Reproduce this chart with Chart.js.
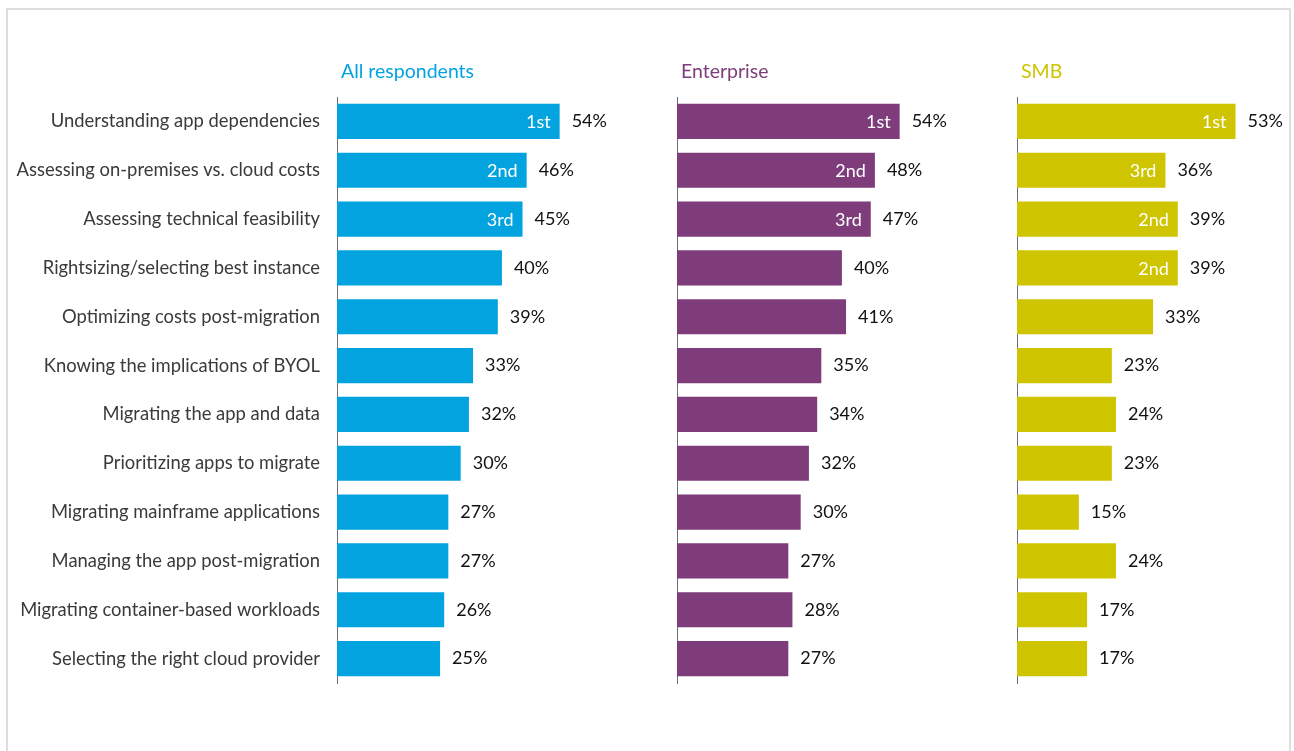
<!DOCTYPE html>
<html>
<head>
<meta charset="utf-8">
<script src="https://cdn.jsdelivr.net/npm/chart.js@4.4.1/dist/chart.umd.min.js"></script>
<style>
  html, body { margin: 0; padding: 0; background: #fff; overflow: hidden; }
  #page { position: relative; width: 1294px; height: 751px; }
  #frame { position: absolute; left: 6px; top: 8px; width: 1285px; height: 760px;
           border: 2px solid #dedede; box-sizing: border-box; }
  canvas { position: absolute; top: 0; }
</style>
</head>
<body>
<div id="page">
  <div id="frame"></div>
  <canvas id="chartAll" style="left:0px" width="613" height="751"></canvas>
  <canvas id="chartEnt" style="left:667px" width="286" height="751"></canvas>
  <canvas id="chartSmb" style="left:1007px" width="286" height="751"></canvas>
</div>
<script>
const categories = [
  'Understanding app dependencies',
  'Assessing on-premises vs. cloud costs',
  'Assessing technical feasibility',
  'Rightsizing/selecting best instance',
  'Optimizing costs post-migration',
  'Knowing the implications of BYOL',
  'Migrating the app and data',
  'Prioritizing apps to migrate',
  'Migrating mainframe applications',
  'Managing the app post-migration',
  'Migrating container-based workloads',
  'Selecting the right cloud provider'
];
const allValues = [54, 46, 45, 40, 39, 33, 32, 30, 27, 27, 26, 25];
const entValues = [54, 48, 47, 40, 41, 35, 34, 32, 30, 27, 28, 27];
const smbValues = [53, 36, 39, 39, 33, 23, 24, 23, 15, 24, 17, 17];
const allRanks = ['1st', '2nd', '3rd', '', '', '', '', '', '', '', '', ''];
const entRanks = ['1st', '2nd', '3rd', '', '', '', '', '', '', '', '', ''];
const smbRanks = ['1st', '3rd', '2nd', '2nd', '', '', '', '', '', '', '', ''];

const FONT = 'Lato';
const X_MAX = 65;

// draws panel title, rank inside bar and value after bar
const barText = {
  id: 'barText',
  afterDatasetsDraw(chart, args, opts) {
    const ctx = chart.ctx;
    const area = chart.chartArea;
    ctx.save();
    ctx.font = '19.5px ' + FONT;
    ctx.fillStyle = opts.color;
    ctx.textAlign = 'left';
    ctx.textBaseline = 'middle';
    ctx.fillText(opts.title, area.left + 4, 72);
    const meta = chart.getDatasetMeta(0);
    const data = chart.data.datasets[0].data;
    meta.data.forEach((bar, i) => {
      ctx.font = '18px ' + FONT;
      ctx.fillStyle = '#111';
      ctx.textAlign = 'left';
      ctx.fillText(data[i] + '%', bar.x + 12, bar.y);
      if (opts.ranks[i]) {
        ctx.fillStyle = '#fff';
        ctx.textAlign = 'right';
        ctx.fillText(opts.ranks[i], bar.x - 9, bar.y + 1);
      }
    });
    ctx.restore();
  }
};

function makeChart(id, values, ranks, color, title, yWidth, showLabels) {
  return new Chart(document.getElementById(id), {
    type: 'bar',
    data: {
      labels: categories,
      datasets: [{
        data: values,
        backgroundColor: color,
        borderWidth: 0,
        barPercentage: 0.72,
        categoryPercentage: 1
      }]
    },
    options: {
      indexAxis: 'y',
      animation: false,
      responsive: false,
      layout: { padding: { top: 97, bottom: 68, left: 0, right: 8 } },
      plugins: {
        legend: { display: false },
        tooltip: { enabled: false },
        barText: { title: title, color: color, ranks: ranks }
      },
      scales: {
        x: { display: false, min: 0, max: X_MAX },
        y: {
          display: true,
          grid: { display: false, drawTicks: false },
          border: { display: true, color: '#6b6b7a', width: 1 },
          ticks: {
            display: showLabels,
            color: '#3a3a3a',
            padding: 17,
            font: { family: FONT, size: 18.4 }
          },
          afterFit(scale) { scale.width = yWidth; }
        }
      }
    },
    plugins: [barText]
  });
}

makeChart('chartAll', allValues, allRanks, '#03a3df', 'All respondents', 337, true);
makeChart('chartEnt', entValues, entRanks, '#7e3d7a', 'Enterprise', 10, false);
makeChart('chartSmb', smbValues, smbRanks, '#cfc400', 'SMB', 10, false);
</script>
</body>
</html>
